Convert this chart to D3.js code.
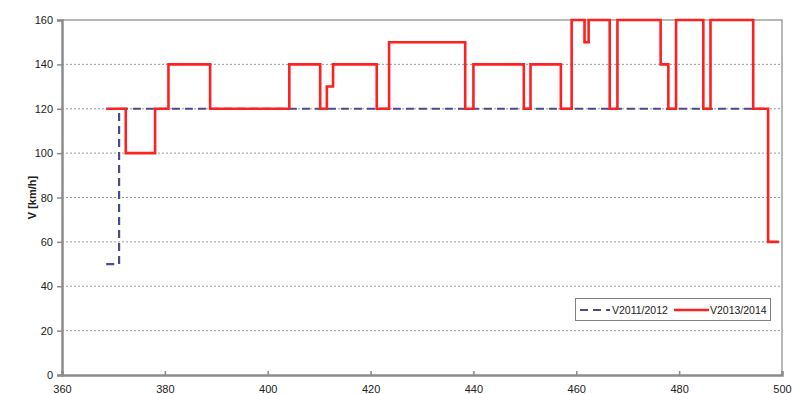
<!DOCTYPE html>
<html>
<head>
<meta charset="utf-8">
<script src="https://cdn.jsdelivr.net/npm/d3@7"></script>
<style>
  html, body { margin: 0; padding: 0; background: #fff; }
  svg { display: block; font-family: "Liberation Sans", Arial, sans-serif; }
</style>
</head>
<body>
<svg id="chart" width="793" height="394"></svg>
<script>
// Speed profile along the line (km position vs. permitted speed)
const xTicks = [360, 380, 400, 420, 440, 460, 480, 500];
const yTicks = [0, 20, 40, 60, 80, 100, 120, 140, 160];

// V2011/2012 timetable speed (step changes)
const oldKm = [368.6, 371.1, 497.3];
const oldV  = [50, 120, 120];

// V2013/2014 timetable speed (step changes)
const newKm = [368.6, 372.4, 378.1, 380.7, 388.8, 404.2, 410.2, 411.5, 412.7, 421.2,
               423.6, 438.4, 440.0, 449.8, 451.1, 457.0, 459.1, 461.6, 462.4, 466.5,
               468.0, 476.4, 477.9, 479.4, 484.7, 486.1, 494.4, 497.3, 499.4];
const newV  = [120, 100, 120, 140, 120, 140, 120, 130, 140, 120,
               150, 120, 140, 120, 140, 120, 160, 150, 160, 120,
               160, 140, 120, 160, 120, 160, 120, 60, 60];

const seriesNames = ["V2011/2012", "V2013/2014"];
const yTitle = "V [km/h]";

const svg = d3.select("#chart");
const plot = { left: 62, right: 782, top: 20, bottom: 375 };

const x = d3.scaleLinear().domain([360, 500]).range([plot.left, plot.right]);
const y = d3.scaleLinear().domain([0, 160]).range([plot.bottom, plot.top]);

// horizontal dotted gridlines
svg.append("g")
  .selectAll("line")
  .data(yTicks.filter(v => v > 0 && v < 160))
  .join("line")
  .attr("x1", plot.left).attr("x2", plot.right)
  .attr("y1", d => y(d)).attr("y2", d => y(d))
  .attr("stroke", "#9a9a9a")
  .attr("stroke-width", 1)
  .attr("stroke-dasharray", "2,2");

// plot frame (top and right)
svg.append("path")
  .attr("d", `M${plot.left},${plot.top}H${plot.right}V${plot.bottom}`)
  .attr("fill", "none")
  .attr("stroke", "#a0a0a0")
  .attr("stroke-width", 1.5);

// axes
const yAxis = d3.axisLeft(y).tickValues(yTicks).tickSize(5).tickPadding(4);
const gy = svg.append("g").attr("transform", `translate(${plot.left},0)`).call(yAxis);
gy.select(".domain").attr("stroke", "#8c8c8c").attr("stroke-width", 2.5);
gy.selectAll(".tick line").attr("stroke", "#8c8c8c").attr("stroke-width", 1.5);
gy.selectAll(".tick text").attr("font-size", 11).attr("fill", "#222")
  .attr("font-family", "Liberation Sans, Arial, sans-serif");

const xAxis = d3.axisBottom(x).tickValues(xTicks).tickSize(-4).tickPadding(10);
const gx = svg.append("g").attr("transform", `translate(0,${plot.bottom})`).call(xAxis);
gx.select(".domain").attr("stroke", "#8c8c8c").attr("stroke-width", 2.5);
gx.selectAll(".tick line").attr("stroke", "#8c8c8c").attr("stroke-width", 1.5);
gx.selectAll(".tick text").attr("font-size", 11).attr("fill", "#222")
  .attr("font-family", "Liberation Sans, Arial, sans-serif");

// y axis title
svg.append("text")
  .attr("transform", `translate(36,${(plot.top + plot.bottom) / 2}) rotate(-90)`)
  .attr("text-anchor", "middle")
  .attr("font-size", 11)
  .attr("font-weight", "bold")
  .attr("fill", "#222")
  .text(yTitle);

const step = d3.line().curve(d3.curveStepAfter).x(d => x(d[0])).y(d => y(d[1]));

// V2011/2012 dashed first, V2013/2014 solid red on top
svg.append("path")
  .datum(d3.zip(oldKm, oldV))
  .attr("d", step)
  .attr("fill", "none")
  .attr("stroke", "#4a4a8e")
  .attr("stroke-width", 2.2)
  .attr("stroke-dasharray", "8,5");

svg.append("path")
  .datum(d3.zip(newKm, newV))
  .attr("d", step)
  .attr("fill", "none")
  .attr("stroke", "#ff2020")
  .attr("stroke-width", 2.6);

// legend
const lg = svg.append("g");
lg.append("rect")
  .attr("x", 575.5).attr("y", 298.5).attr("width", 195).attr("height", 22)
  .attr("fill", "#fff").attr("stroke", "#808080").attr("stroke-width", 1);
lg.append("line")
  .attr("x1", 580).attr("x2", 610).attr("y1", 310).attr("y2", 310)
  .attr("stroke", "#4a4a8e").attr("stroke-width", 2.2).attr("stroke-dasharray", "8,5");
lg.append("text")
  .attr("x", 612).attr("y", 314).attr("font-size", 10.5).attr("fill", "#222")
  .text(seriesNames[0]);
lg.append("line")
  .attr("x1", 674).attr("x2", 709).attr("y1", 310).attr("y2", 310)
  .attr("stroke", "#ff2020").attr("stroke-width", 2.6);
lg.append("text")
  .attr("x", 710).attr("y", 314).attr("font-size", 10.5).attr("fill", "#222")
  .text(seriesNames[1]);
</script>
</body>
</html>
